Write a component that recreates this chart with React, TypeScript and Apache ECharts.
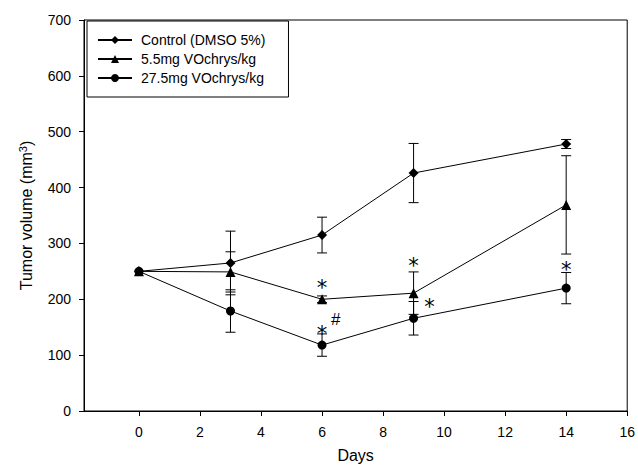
import React, { useEffect, useRef } from "react";
import * as echarts from "echarts";

const days = [0, 3, 6, 9, 14];
const controlMean = [250, 265, 315, 426, 478];
const controlErr = [0, 57, 32, 53, 8];
const lowMean = [250, 249, 200, 211, 369];
const lowErr = [0, 36, 6, 38, 88];
const highMean = [250, 179, 118, 166, 220];
const highErr = [0, 38, 20, 30, 28];
const xTicks = [0, 2, 4, 6, 8, 10, 12, 14, 16];
const seriesNames = ["Control (DMSO 5%)", "5.5mg VOchrys/kg", "27.5mg VOchrys/kg"];
const seriesSymbols = ["diamond", "triangle", "circle"];
const seriesSizes = [10, 10, 9];
// [day, value (visual centre), text]
const annotations: [number, number, string][] = [
  [6, 229, "*"],
  [6, 147, "*"],
  [6.45, 163, "#"],
  [9, 267, "*"],
  [9.52, 195, "*"],
  [14, 261, "*"],
];

const FONT = "'Liberation Sans', Arial, sans-serif";

export default function App() {
  const ref = useRef<HTMLDivElement>(null);
  useEffect(() => {
    if (!ref.current) return;
    const chart = echarts.init(ref.current, undefined, { renderer: "svg" });
    const means = [controlMean, lowMean, highMean];
    const errs = [controlErr, lowErr, highErr];

    const lineSeries = seriesNames.map((name, i) => ({
      name,
      type: "line",
      data: days.map((d, j) => [d, means[i][j]]),
      symbol: seriesSymbols[i],
      symbolSize: seriesSizes[i],
      itemStyle: { color: "#000" },
      lineStyle: { color: "#000", width: 1 },
      z: 3,
    }));

    const errSeries = seriesNames.map((name, i) => ({
      name: name + " err",
      type: "custom",
      data: days.map((d, j) => [d, means[i][j], errs[i][j]]),
      encode: { x: 0, y: 1 },
      itemStyle: { color: "#000" },
      clip: false,
      z: 2,
      renderItem: (params: any, api: any) => {
        const x = api.value(0);
        const m = api.value(1);
        const e = api.value(2);
        if (!e) return null;
        const top = api.coord([x, m + e]);
        const bot = api.coord([x, m - e]);
        const hw = 5;
        const st = { stroke: "#000", lineWidth: 1 };
        return {
          type: "group",
          children: [
            { type: "line", shape: { x1: top[0], y1: top[1], x2: bot[0], y2: bot[1] }, style: st },
            { type: "line", shape: { x1: top[0] - hw, y1: top[1], x2: top[0] + hw, y2: top[1] }, style: st },
            { type: "line", shape: { x1: bot[0] - hw, y1: bot[1], x2: bot[0] + hw, y2: bot[1] }, style: st },
          ],
        };
      },
    }));

    const annSeries = {
      name: "annotations",
      type: "custom",
      data: annotations.map((a) => [a[0], a[1], a[2]]),
      encode: { x: 0, y: 1 },
      itemStyle: { color: "#000" },
      clip: false,
      z: 4,
      renderItem: (params: any, api: any) => {
        const a = annotations[params.dataIndex];
        const p = api.coord([a[0], a[1]]);
        const isStar = a[2] === "*";
        const size = isStar ? 21 : 17;
        return {
          type: "text",
          x: p[0],
          y: p[1] + (isStar ? size * 0.22 : 0),
          style: {
            text: a[2],
            fill: "#000",
            font: isStar ? `${size}px 'DejaVu Sans', sans-serif` : `${size}px ${FONT}`,
            align: "center",
            verticalAlign: "middle",
          },
        };
      },
    };

    chart.setOption({
      animation: false,
      backgroundColor: "#fff",
      grid: {
        left: 84,
        right: 9,
        top: 20,
        bottom: 62,
        show: true,
        borderColor: "#000",
        borderWidth: 1,
        backgroundColor: "transparent",
      },
      legend: {
        data: seriesNames,
        orient: "vertical",
        left: 87,
        top: 21,
        padding: [12, 23, 12, 10],
        itemWidth: 34,
        itemHeight: 10,
        itemGap: 5,
        borderColor: "#000",
        borderWidth: 1,
        borderRadius: 0,
        backgroundColor: "#fff",
        textStyle: { fontFamily: FONT, fontSize: 14, lineHeight: 14, color: "#000", padding: [0, 0, 0, 4] },
        z: 10,
      },
      xAxis: {
        type: "value",
        min: -1.8,
        max: 16,
        name: "Days",
        nameLocation: "middle",
        nameGap: 36,
        nameTextStyle: { fontFamily: FONT, fontSize: 16, color: "#000" },
        splitLine: { show: false },
        axisLine: { onZero: false, lineStyle: { color: "#000", width: 1 } },
        axisTick: { inside: false, length: 5, lineStyle: { color: "#000" }, customValues: xTicks },
        axisLabel: { fontFamily: FONT, fontSize: 14, color: "#000", margin: 14, customValues: xTicks },
      },
      yAxis: {
        type: "value",
        min: 0,
        max: 700,
        interval: 100,
        name: "{a|Tumor volume (mm}{s|3}{a|)}",
        nameLocation: "middle",
        nameGap: 49,
        nameRotate: 90,
        nameTextStyle: {
          fontFamily: FONT,
          fontSize: 16,
          color: "#000",
          rich: {
            a: { fontFamily: FONT, fontSize: 16, color: "#000" },
            s: { fontFamily: FONT, fontSize: 11, color: "#000", verticalAlign: "top", padding: [0, 0, 7, 0] },
          },
        },
        splitLine: { show: false },
        axisLine: { show: true, onZero: false, lineStyle: { color: "#000", width: 1 } },
        axisTick: { show: true, inside: false, length: 5, lineStyle: { color: "#000" } },
        axisLabel: { fontFamily: FONT, fontSize: 14, color: "#000", margin: 13 },
      },
      series: [...errSeries, ...lineSeries, annSeries],
    });
    return () => chart.dispose();
  }, []);
  return (
    <div
      ref={ref}
      style={{ position: "absolute", left: 0, top: 0, width: 638, height: 473 }}
    />
  );
}
